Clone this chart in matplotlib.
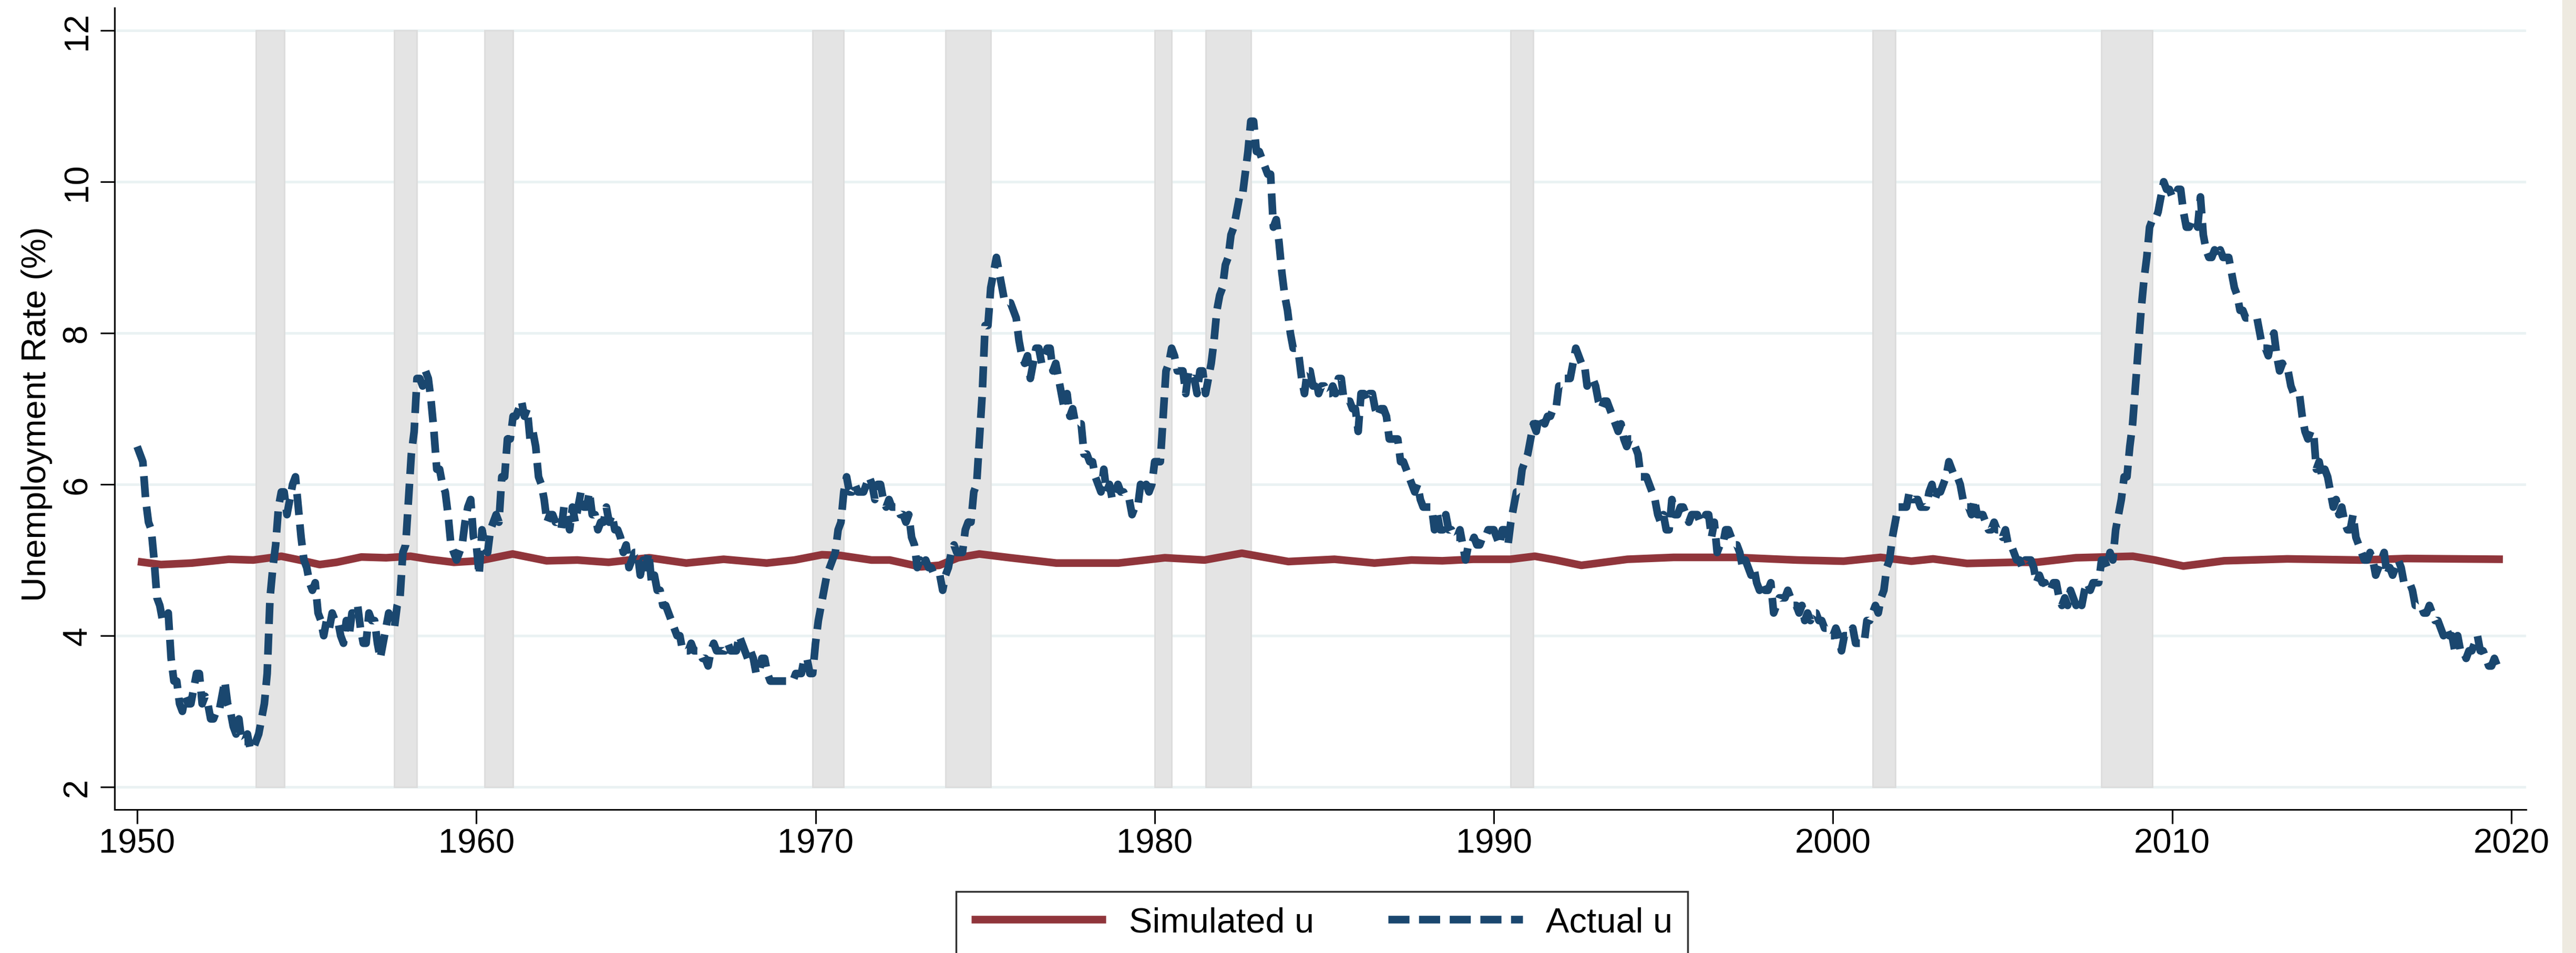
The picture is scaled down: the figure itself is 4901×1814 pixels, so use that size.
import matplotlib
matplotlib.use('Agg')
import matplotlib.pyplot as plt
import numpy as np
from matplotlib.patches import Rectangle

plt.rcParams['font.family'] = ['Liberation Sans', 'DejaVu Sans']

# monthly unemployment rate, Jan 1950 - Sep 2019
start_year = 1950
actual_u = [
    6.5, 6.4, 6.3, 5.8, 5.5, 5.4, 5.0, 4.5, 4.4, 4.2, 4.2, 4.3,
    3.7, 3.4, 3.4, 3.1, 3.0, 3.2, 3.1, 3.1, 3.3, 3.5, 3.5, 3.1,
    3.2, 3.1, 2.9, 2.9, 3.0, 3.0, 3.2, 3.4, 3.1, 3.0, 2.8, 2.7,
    2.9, 2.6, 2.6, 2.7, 2.5, 2.5, 2.6, 2.7, 2.9, 3.1, 3.5, 4.5,
    4.9, 5.2, 5.7, 5.9, 5.9, 5.6, 5.8, 6.0, 6.1, 5.7, 5.3, 5.0,
    4.9, 4.7, 4.6, 4.7, 4.3, 4.2, 4.0, 4.2, 4.1, 4.3, 4.2, 4.2,
    4.0, 3.9, 4.2, 4.0, 4.3, 4.3, 4.4, 4.1, 3.9, 3.9, 4.3, 4.2,
    4.2, 3.9, 3.7, 3.9, 4.1, 4.3, 4.2, 4.1, 4.4, 4.5, 5.1, 5.2,
    5.8, 6.4, 6.7, 7.4, 7.4, 7.3, 7.5, 7.4, 7.1, 6.7, 6.2, 6.2,
    6.0, 5.9, 5.6, 5.2, 5.1, 5.0, 5.1, 5.2, 5.5, 5.7, 5.8, 5.3,
    5.2, 4.8, 5.4, 5.2, 5.1, 5.4, 5.5, 5.6, 5.5, 6.1, 6.1, 6.6,
    6.6, 6.9, 6.9, 7.0, 7.1, 6.9, 7.0, 6.6, 6.7, 6.5, 6.1, 6.0,
    5.8, 5.5, 5.6, 5.6, 5.5, 5.5, 5.4, 5.7, 5.6, 5.4, 5.7, 5.5,
    5.7, 5.9, 5.7, 5.7, 5.9, 5.6, 5.6, 5.4, 5.5, 5.5, 5.7, 5.5,
    5.6, 5.4, 5.4, 5.3, 5.1, 5.2, 4.9, 5.0, 5.1, 5.1, 4.8, 5.0,
    4.9, 5.1, 4.7, 4.8, 4.6, 4.6, 4.4, 4.4, 4.3, 4.2, 4.1, 4.0,
    4.0, 3.8, 3.8, 3.8, 3.9, 3.8, 3.8, 3.8, 3.7, 3.7, 3.6, 3.8,
    3.9, 3.8, 3.8, 3.8, 3.8, 3.9, 3.8, 3.8, 3.8, 4.0, 3.9, 3.8,
    3.7, 3.8, 3.7, 3.5, 3.5, 3.7, 3.7, 3.5, 3.4, 3.4, 3.4, 3.4,
    3.4, 3.4, 3.4, 3.4, 3.4, 3.5, 3.5, 3.5, 3.7, 3.7, 3.5, 3.5,
    3.9, 4.2, 4.4, 4.6, 4.8, 4.9, 5.0, 5.1, 5.4, 5.5, 5.9, 6.1,
    5.9, 5.9, 6.0, 5.9, 5.9, 5.9, 6.0, 6.1, 6.0, 5.8, 6.0, 6.0,
    5.8, 5.7, 5.8, 5.7, 5.7, 5.7, 5.6, 5.6, 5.5, 5.6, 5.3, 5.2,
    4.9, 5.0, 4.9, 5.0, 4.9, 4.9, 4.8, 4.8, 4.8, 4.6, 4.8, 4.9,
    5.1, 5.2, 5.1, 5.1, 5.1, 5.4, 5.5, 5.5, 5.9, 6.0, 6.6, 7.2,
    8.1, 8.1, 8.6, 8.8, 9.0, 8.8, 8.6, 8.4, 8.4, 8.4, 8.3, 8.2,
    7.9, 7.7, 7.6, 7.7, 7.4, 7.6, 7.8, 7.8, 7.6, 7.7, 7.8, 7.8,
    7.5, 7.6, 7.4, 7.2, 7.0, 7.2, 6.9, 7.0, 6.8, 6.8, 6.8, 6.4,
    6.4, 6.3, 6.3, 6.1, 6.0, 5.9, 6.2, 5.9, 6.0, 5.8, 5.9, 6.0,
    5.9, 5.9, 5.8, 5.8, 5.6, 5.7, 5.7, 6.0, 5.9, 6.0, 5.9, 6.0,
    6.3, 6.3, 6.3, 6.9, 7.5, 7.6, 7.8, 7.7, 7.5, 7.5, 7.5, 7.2,
    7.5, 7.4, 7.4, 7.2, 7.5, 7.5, 7.2, 7.4, 7.6, 7.9, 8.3, 8.5,
    8.6, 8.9, 9.0, 9.3, 9.4, 9.6, 9.8, 9.8, 10.1, 10.4, 10.8, 10.8,
    10.4, 10.4, 10.3, 10.2, 10.1, 10.1, 9.4, 9.5, 9.2, 8.8, 8.5, 8.3,
    8.0, 7.8, 7.8, 7.7, 7.4, 7.2, 7.5, 7.5, 7.3, 7.4, 7.2, 7.3,
    7.3, 7.2, 7.2, 7.3, 7.2, 7.4, 7.4, 7.1, 7.1, 7.1, 7.0, 7.0,
    6.7, 7.2, 7.2, 7.1, 7.2, 7.2, 7.0, 6.9, 7.0, 7.0, 6.9, 6.6,
    6.6, 6.6, 6.6, 6.3, 6.3, 6.2, 6.1, 6.0, 5.9, 6.0, 5.8, 5.7,
    5.7, 5.7, 5.7, 5.4, 5.6, 5.4, 5.4, 5.6, 5.4, 5.4, 5.3, 5.3,
    5.4, 5.2, 5.0, 5.2, 5.2, 5.3, 5.2, 5.2, 5.3, 5.3, 5.4, 5.4,
    5.4, 5.3, 5.2, 5.4, 5.4, 5.2, 5.5, 5.7, 5.9, 5.9, 6.2, 6.3,
    6.4, 6.6, 6.8, 6.7, 6.9, 6.9, 6.8, 6.9, 6.9, 7.0, 7.0, 7.3,
    7.3, 7.4, 7.4, 7.4, 7.6, 7.8, 7.7, 7.6, 7.6, 7.3, 7.4, 7.4,
    7.3, 7.1, 7.0, 7.1, 7.1, 7.0, 6.9, 6.8, 6.7, 6.8, 6.6, 6.5,
    6.6, 6.6, 6.5, 6.4, 6.1, 6.1, 6.1, 6.0, 5.9, 5.8, 5.6, 5.5,
    5.6, 5.4, 5.4, 5.8, 5.6, 5.6, 5.7, 5.7, 5.6, 5.5, 5.6, 5.6,
    5.6, 5.5, 5.5, 5.6, 5.6, 5.3, 5.5, 5.1, 5.2, 5.2, 5.4, 5.4,
    5.3, 5.2, 5.2, 5.1, 4.9, 5.0, 4.9, 4.8, 4.9, 4.7, 4.6, 4.7,
    4.6, 4.6, 4.7, 4.3, 4.4, 4.5, 4.5, 4.5, 4.6, 4.5, 4.4, 4.4,
    4.3, 4.4, 4.2, 4.3, 4.2, 4.3, 4.3, 4.2, 4.2, 4.1, 4.1, 4.0,
    4.0, 4.1, 4.0, 3.8, 4.0, 4.0, 4.0, 4.1, 3.9, 3.9, 3.9, 3.9,
    4.2, 4.2, 4.3, 4.4, 4.3, 4.5, 4.6, 4.9, 5.0, 5.3, 5.5, 5.7,
    5.7, 5.7, 5.7, 5.9, 5.8, 5.8, 5.8, 5.7, 5.7, 5.7, 5.9, 6.0,
    5.8, 5.9, 5.9, 6.0, 6.1, 6.3, 6.2, 6.1, 6.1, 6.0, 5.8, 5.7,
    5.7, 5.6, 5.8, 5.6, 5.6, 5.6, 5.5, 5.4, 5.4, 5.5, 5.4, 5.4,
    5.3, 5.4, 5.2, 5.2, 5.1, 5.0, 5.0, 4.9, 5.0, 5.0, 5.0, 4.9,
    4.7, 4.8, 4.7, 4.7, 4.6, 4.6, 4.7, 4.7, 4.5, 4.4, 4.5, 4.4,
    4.6, 4.5, 4.4, 4.5, 4.4, 4.6, 4.7, 4.6, 4.7, 4.7, 4.7, 5.0,
    5.0, 4.9, 5.1, 5.0, 5.4, 5.6, 5.8, 6.1, 6.1, 6.5, 6.8, 7.3,
    7.8, 8.3, 8.7, 9.0, 9.4, 9.5, 9.5, 9.6, 9.8, 10.0, 9.9, 9.9,
    9.8, 9.8, 9.9, 9.9, 9.6, 9.4, 9.4, 9.5, 9.5, 9.4, 9.8, 9.3,
    9.1, 9.0, 9.0, 9.1, 9.0, 9.1, 9.0, 9.0, 9.0, 8.8, 8.6, 8.5,
    8.3, 8.3, 8.2, 8.2, 8.2, 8.2, 8.2, 8.0, 7.8, 7.8, 7.7, 7.9,
    8.0, 7.7, 7.5, 7.6, 7.5, 7.5, 7.3, 7.2, 7.2, 7.2, 6.9, 6.7,
    6.6, 6.7, 6.7, 6.2, 6.3, 6.1, 6.2, 6.1, 5.9, 5.7, 5.8, 5.6,
    5.7, 5.5, 5.4, 5.4, 5.6, 5.3, 5.2, 5.1, 5.0, 5.0, 5.1, 5.0,
    4.8, 4.9, 5.0, 5.1, 4.8, 4.9, 4.8, 4.9, 5.0, 4.9, 4.7, 4.7,
    4.7, 4.6, 4.4, 4.4, 4.4, 4.3, 4.3, 4.4, 4.3, 4.2, 4.2, 4.1,
    4.0, 4.1, 4.0, 4.0, 3.8, 4.0, 3.8, 3.8, 3.7, 3.8, 3.8, 3.9,
    4.0, 3.8, 3.8, 3.7, 3.6, 3.6, 3.7, 3.6, 3.5,
]

# simulated u
sim_year = [1950.02, 1950.70, 1951.61, 1952.70, 1953.42, 1954.25, 1954.79, 1955.38,
            1955.88, 1956.61, 1957.34, 1958.06, 1958.61, 1959.34, 1960.07, 1961.07,
            1962.07, 1962.98, 1963.59, 1963.90, 1965.10, 1966.19, 1967.29, 1968.56,
            1969.38, 1970.19, 1970.74, 1971.65, 1972.19, 1973.10, 1973.65, 1974.20,
            1974.83, 1975.74, 1977.10, 1977.70, 1978.93, 1980.30, 1981.47, 1982.57,
            1983.94, 1985.30, 1986.48, 1987.57, 1988.48, 1989.39, 1990.48, 1991.21,
            1991.83, 1992.58, 1993.94, 1995.30, 1997.13, 1998.94, 2000.31, 2001.40,
            2002.31, 2002.95, 2003.95, 2005.32, 2006.00, 2007.16, 2008.84, 2009.49,
            2010.33, 2011.53, 2013.39, 2015.53, 2016.92, 2019.75]
sim_u = [4.98, 4.94, 4.96, 5.01, 5.00, 5.05, 5.00, 4.94,
         4.97, 5.04, 5.03, 5.05, 5.01, 4.97, 4.99, 5.08,
         4.99, 5.00, 4.98, 4.97, 5.03, 4.96, 5.01, 4.96,
         5.00, 5.07, 5.06, 5.00, 5.00, 4.91, 4.93, 5.03,
         5.08, 5.03, 4.96, 4.96, 4.96, 5.03, 5.00, 5.09,
         4.98, 5.01, 4.96, 5.00, 4.99, 5.01, 5.01, 5.05,
         5.00, 4.93, 5.01, 5.035, 5.035, 5.00, 4.985, 5.035,
         4.985, 5.015, 4.955, 4.97, 4.97, 5.03, 5.05, 5.00,
         4.92, 4.99, 5.015, 5.00, 5.02, 5.01]

# NBER recessions (peak, trough)
rec_start = [1953.500, 1957.583, 1960.250, 1969.917, 1973.833, 1980.000,
             1981.500, 1990.500, 2001.167, 2007.917]
rec_end = [1954.333, 1958.250, 1961.083, 1970.833, 1975.167, 1980.500,
           1982.833, 1991.167, 2001.833, 2009.417]

yticks = [2, 4, 6, 8, 10, 12]
xticks = [1950, 1960, 1970, 1980, 1990, 2000, 2010, 2020]

red = '#90353B'
navy = '#1A476F'

fig = plt.figure(figsize=(49.01, 18.15), dpi=100)
fig.patches.append(Rectangle((4875 / 4901, 0), 1, 1, transform=fig.transFigure,
                             color='#EEEAE0', zorder=0))
ax = fig.add_axes([0.04448, 0.15041, 0.93614, 0.8405])

rs = np.array(rec_start)
re_ = np.array(rec_end)
ax.bar(rs, 10, bottom=2, width=re_ - rs, align='edge', color='#E4E4E4',
       edgecolor='#DCDCDC', linewidth=2, zorder=1)

x_act = start_year + np.arange(len(actual_u)) / 12
l1, = ax.plot(sim_year, sim_u, color=red, lw=10.5, solid_capstyle='butt',
              solid_joinstyle='round', zorder=3, label='Simulated u')
l2, = ax.plot(x_act, actual_u, color=navy, lw=10.5, zorder=4, label='Actual u')
l2.set_dashes([2.75, 1.25])

ax.set_xlim(1949.334, 2020.434)
ax.set_ylim(1.7014, 12.295)
ax.set_xticks(xticks)
ax.set_yticks(yticks)
ax.yaxis.grid(True, color='#EAF2F3', lw=3.6)
ax.set_axisbelow(True)

for s in ['top', 'right']:
    ax.spines[s].set_visible(False)
for s in ['left', 'bottom']:
    ax.spines[s].set_linewidth(2.2)

ax.tick_params(axis='both', length=19.5, width=2.2, labelsize=47)
ax.tick_params(axis='x', pad=5)
ax.tick_params(axis='y', pad=10, labelrotation=90)
for lab in ax.get_yticklabels():
    lab.set_va('center')

ax.set_ylabel('Unemployment Rate (%)', fontsize=47)
ax.yaxis.set_label_coords(-0.0257, 0.494)

leg = ax.legend(handles=[l1, l2], loc='upper left',
                bbox_to_anchor=(1819 / 4901, 1 - 1698 / 1815),
                bbox_transform=fig.transFigure, ncol=2, frameon=True,
                fancybox=False, edgecolor='black', fontsize=48,
                handlelength=3.84, handletextpad=0.66, columnspacing=2.12,
                borderpad=0.43, borderaxespad=0)
leg.get_frame().set_linewidth(2.5)

fig.savefig('out.png', dpi=100)
